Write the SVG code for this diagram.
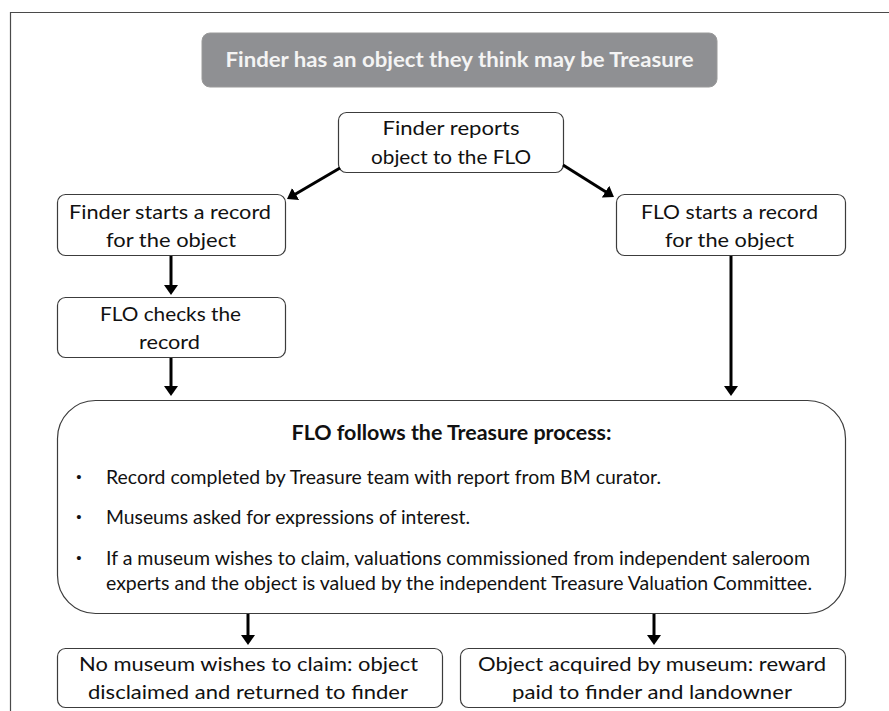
<svg xmlns="http://www.w3.org/2000/svg" width="889" height="711" viewBox="0 0 889 711">
  <style>
    .box { fill: #ffffff; stroke: #3c3c3c; stroke-width: 1.2; }
    .txt { font-family: Lato, "Liberation Sans", sans-serif; font-size: 20px; fill: #111111; }
    .mid { text-anchor: middle; }
    .bold { font-weight: bold; }
    .bullet { font-family: "Liberation Sans", sans-serif; font-size: 15px; fill: #111111; text-anchor: middle; }
    .conn { stroke: #000000; stroke-width: 3; fill: none; marker-end: url(#arrow); }
  </style>
  <defs>
    <marker id="arrow" viewBox="0 0 10 14" refX="2" refY="7" markerWidth="10" markerHeight="14" markerUnits="userSpaceOnUse" orient="auto">
      <path d="M0,0 L10,7 L0,14 z" fill="#000000"/>
    </marker>
  </defs>
  <rect x="0" y="0" width="889" height="711" fill="#ffffff"/>
  <path d="M10.5,711 L10.5,12.5 L889,12.5" fill="none" stroke="#4a4a4a" stroke-width="1.2"/>

  <g id="title">
    <rect x="202" y="33" width="515" height="54" rx="8" fill="#8f9093" stroke="#9a9a9a" stroke-width="1"/>
    <text class="txt bold mid" x="459.5" y="67" style="fill:#f4f4f4;font-size:21px" textLength="468" lengthAdjust="spacingAndGlyphs">Finder has an object they think may be Treasure</text>
  </g>

  <g id="finder-reports">
    <rect class="box" x="338.5" y="112.5" width="225" height="60" rx="8"/>
    <text class="txt mid" x="451" y="135" textLength="137" lengthAdjust="spacingAndGlyphs">Finder reports</text>
    <text class="txt mid" x="451" y="164" textLength="160" lengthAdjust="spacingAndGlyphs">object to the FLO</text>
  </g>

  <g id="finder-starts">
    <rect class="box" x="57.5" y="194.5" width="228" height="61" rx="8"/>
    <text class="txt mid" x="170" y="219" textLength="202" lengthAdjust="spacingAndGlyphs">Finder starts a record</text>
    <text class="txt mid" x="171" y="247" textLength="130" lengthAdjust="spacingAndGlyphs">for the object</text>
  </g>

  <g id="flo-starts">
    <rect class="box" x="616.5" y="194.5" width="229" height="61" rx="8"/>
    <text class="txt mid" x="729.5" y="219" textLength="177" lengthAdjust="spacingAndGlyphs">FLO starts a record</text>
    <text class="txt mid" x="729.5" y="247" textLength="129" lengthAdjust="spacingAndGlyphs">for the object</text>
  </g>

  <g id="flo-checks">
    <rect class="box" x="57.5" y="297.5" width="228" height="60" rx="8"/>
    <text class="txt mid" x="170.5" y="321" textLength="141" lengthAdjust="spacingAndGlyphs">FLO checks the</text>
    <text class="txt mid" x="169.5" y="349" textLength="61" lengthAdjust="spacingAndGlyphs">record</text>
  </g>

  <g id="treasure-process">
    <rect class="box" x="57.5" y="400.5" width="788" height="213" rx="38"/>
    <text class="txt bold mid" x="451.5" y="440" textLength="320" lengthAdjust="spacingAndGlyphs">FLO follows the Treasure process:</text>
    <text class="bullet" x="79" y="482">•</text>
    <text class="txt" x="106" y="484" textLength="555" lengthAdjust="spacingAndGlyphs">Record completed by Treasure team with report from BM curator.</text>
    <text class="bullet" x="79" y="522">•</text>
    <text class="txt" x="106" y="524" textLength="364" lengthAdjust="spacingAndGlyphs">Museums asked for expressions of interest.</text>
    <text class="bullet" x="79" y="563">•</text>
    <text class="txt" x="106" y="565" textLength="704" lengthAdjust="spacingAndGlyphs">If a museum wishes to claim, valuations commissioned from independent saleroom</text>
    <text class="txt" x="106" y="590" textLength="706" lengthAdjust="spacingAndGlyphs">experts and the object is valued by the independent Treasure Valuation Committee.</text>
  </g>

  <g id="disclaimed">
    <rect class="box" x="57.5" y="648.5" width="385" height="59" rx="8"/>
    <text class="txt mid" x="248.5" y="671" textLength="339" lengthAdjust="spacingAndGlyphs">No museum wishes to claim: object</text>
    <text class="txt mid" x="248" y="699" textLength="320" lengthAdjust="spacingAndGlyphs">disclaimed and returned to finder</text>
  </g>

  <g id="acquired">
    <rect class="box" x="460.5" y="648.5" width="385" height="59" rx="8"/>
    <text class="txt mid" x="652" y="671" textLength="348" lengthAdjust="spacingAndGlyphs">Object acquired by museum: reward</text>
    <text class="txt mid" x="652" y="699" textLength="280" lengthAdjust="spacingAndGlyphs">paid to finder and landowner</text>
  </g>

  <g id="connectors">
    <line class="conn" x1="340" y1="168" x2="293.9" y2="195"/>
    <line class="conn" x1="563" y1="165" x2="607.2" y2="192.7"/>
    <line class="conn" x1="171" y1="256" x2="171" y2="287"/>
    <line class="conn" x1="171" y1="358" x2="171" y2="388"/>
    <line class="conn" x1="731" y1="256" x2="731" y2="388"/>
    <line class="conn" x1="248" y1="614" x2="248" y2="637"/>
    <line class="conn" x1="654" y1="614" x2="654" y2="637"/>
  </g>
</svg>
